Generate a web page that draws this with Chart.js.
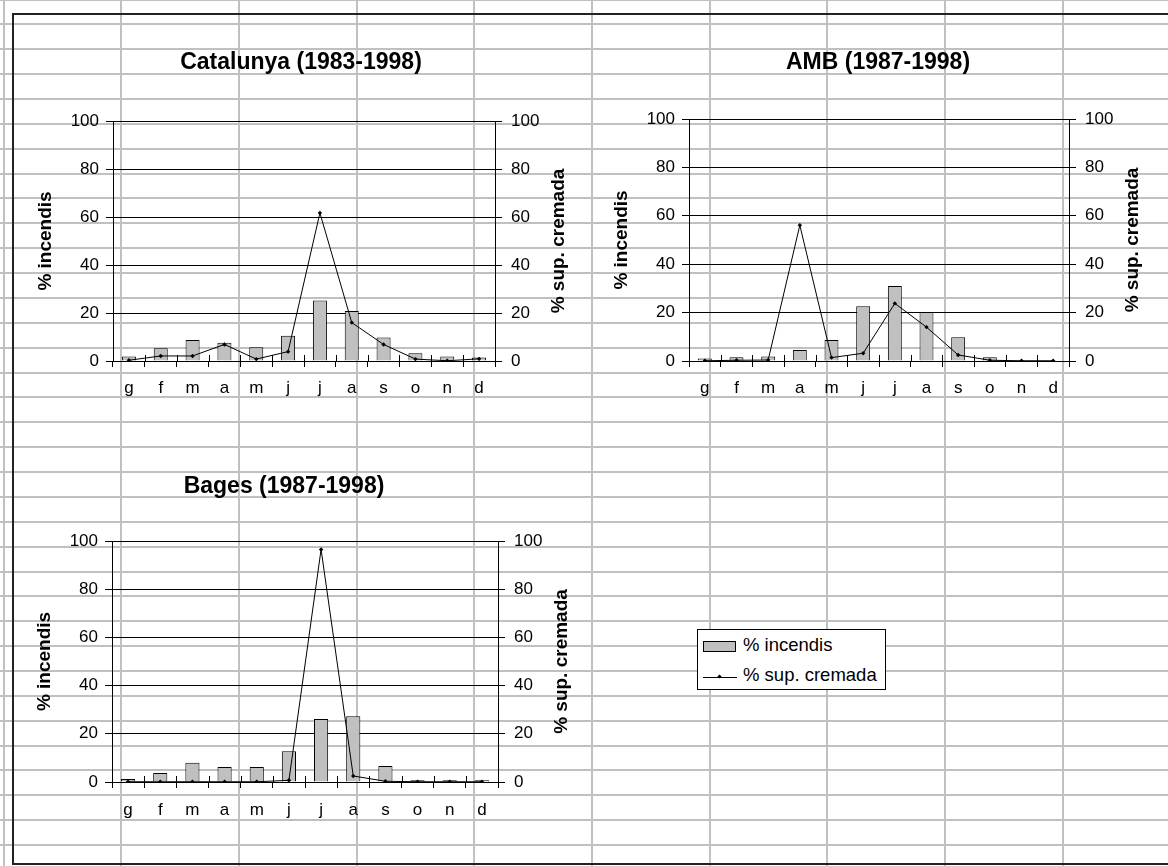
<!DOCTYPE html>
<html>
<head>
<meta charset="utf-8">
<title>Incendis per mes</title>
<script src="https://cdn.jsdelivr.net/npm/chart.js@4/dist/chart.umd.min.js"></script>
<style>
html, body { margin: 0; padding: 0; }
body { width: 1168px; height: 866px; position: relative; overflow: hidden; background: #fff;
       font-family: "Liberation Sans", Arial, sans-serif; }
#sheet { position: absolute; left: 0; top: 0; }
canvas.chart { position: absolute; }
#legend { position: absolute; left: 697px; top: 629px; width: 187px; height: 59px;
          border: 1px solid #000; background: #fff; }
#legend .swatch { position: absolute; left: 5px; top: 11px; width: 31px; height: 9px;
                  background: #c0c0c0; border: 1px solid #000; }
#legend .stroke { position: absolute; left: 5px; top: 47px; width: 34px; height: 1px; background: #000; }
#legend .dot { position: absolute; left: 20px; top: 45px; width: 3px; height: 3px; background: #000;
               transform: rotate(45deg); }
#legend .txt { position: absolute; left: 45px; font-size: 18.5px; line-height: 20px; color: #000; white-space: nowrap; }
</style>
</head>
<body>
<canvas id="sheet" width="1168" height="866"></canvas>
<canvas id="cat" class="chart" width="590" height="420" style="left:0;top:0"></canvas>
<canvas id="amb" class="chart" width="578" height="420" style="left:590px;top:0"></canvas>
<canvas id="bages" class="chart" width="590" height="446" style="left:0;top:420px"></canvas>
<div id="legend"></div>

<script>
var months = ['g', 'f', 'm', 'a', 'm', 'j', 'j', 'a', 's', 'o', 'n', 'd'];
var seriesNames = ['% incendis', '% sup. cremada'];

var catIncendis = [1.9, 5.3, 8.7, 7.6, 5.7, 10.5, 25.2, 20.8, 9.8, 3.2, 1.9, 1.5];
var catCremada = [0.3, 2.1, 2.1, 6.9, 0.8, 3.9, 61.7, 16.0, 6.9, 0.8, 0.1, 0.9];

var ambIncendis = [1.0, 1.5, 1.9, 4.5, 8.7, 22.6, 31.0, 20.2, 9.8, 1.5, 0, 0];
var ambCremada = [0.1, 0.3, 0.4, 56.1, 1.4, 3.2, 23.8, 14.0, 2.5, 0.3, 0.1, 0.1];

var bagesIncendis = [1.2, 3.7, 8.0, 6.2, 6.2, 12.8, 26.1, 27.3, 6.6, 0.7, 0.7, 0.7];
var bagesCremada = [0.1, 0.1, 0.1, 0.1, 0.1, 0.7, 96.5, 2.5, 0.3, 0.1, 0.1, 0.1];

var FONT = '"Liberation Sans", Arial, sans-serif';

// spreadsheet cells behind the charts
var sheet = document.getElementById('sheet').getContext('2d');
sheet.fillStyle = '#c0c0c0';
for (var k = 0; k < 10; k++) sheet.fillRect(Math.round(2.5 + 117.7 * k), 0, 2, 866);
for (var k = 0; k < 36; k++) sheet.fillRect(0, Math.round(-1.5 + 24.87 * k), 1168, 2);
sheet.fillStyle = '#222';
sheet.fillRect(12, 13, 1156, 2);
sheet.fillRect(12, 13, 2, 852);
sheet.fillRect(12, 863, 1156, 2);

Chart.defaults.font.family = FONT;
Chart.defaults.color = '#000';

// title, rotated axis titles and the upper half of the category ticks
var excelBits = {
    id: 'excelBits',
    afterDraw: function (chart, args, opts) {
        var ctx = chart.ctx, a = chart.chartArea, x = chart.scales.x;
        var step = x.getPixelForValue(1) - x.getPixelForValue(0);
        ctx.save();
        ctx.strokeStyle = '#000';
        ctx.lineWidth = 1;
        for (var i = 0; i <= months.length; i++) {
            var px = Math.round(x.getPixelForValue(i) - step / 2) + 0.5;
            ctx.beginPath();
            ctx.moveTo(px, a.bottom - 6);
            ctx.lineTo(px, a.bottom);
            ctx.stroke();
        }
        ctx.fillStyle = '#000';
        ctx.textAlign = 'center';
        ctx.textBaseline = 'middle';
        ctx.font = 'bold 23px ' + FONT;
        ctx.fillText(opts.title, opts.titleX, opts.titleY);

        var midY = (a.top + a.bottom) / 2;
        ctx.font = 'bold 19px ' + FONT;
        ctx.save();
        ctx.translate(a.left - 67, midY);
        ctx.rotate(-Math.PI / 2);
        ctx.fillText(seriesNames[0], 0, 0);
        ctx.restore();
        ctx.save();
        ctx.translate(a.right + 64, midY);
        ctx.rotate(-Math.PI / 2);
        ctx.fillText(seriesNames[1], 0, 0);
        ctx.restore();
        ctx.restore();
    }
};

function makeChart(id, incendis, cremada, box) {
    return new Chart(document.getElementById(id), {
        type: 'bar',
        data: {
            labels: months,
            datasets: [{
                type: 'line',
                label: seriesNames[1],
                data: cremada,
                yAxisID: 'y2',
                borderColor: '#000',
                borderWidth: 1,
                pointStyle: 'rectRot',
                pointRadius: 2.2,
                pointBackgroundColor: '#000',
                pointBorderColor: '#000',
                pointBorderWidth: 0,
                order: 0
            }, {
                type: 'bar',
                label: seriesNames[0],
                data: incendis,
                yAxisID: 'y',
                backgroundColor: '#c0c0c0',
                borderColor: '#000',
                borderWidth: 1,
                barPercentage: 0.44,
                categoryPercentage: 1,
                order: 1
            }]
        },
        options: {
            responsive: false,
            animation: false,
            devicePixelRatio: 1,
            layout: { padding: { top: box.top, left: 0, right: 0, bottom: 0 } },
            plugins: {
                legend: { display: false },
                tooltip: { enabled: false },
                excelBits: { title: box.title, titleX: box.titleX, titleY: box.titleY }
            },
            scales: {
                x: {
                    grid: { offset: true, drawOnChartArea: false, color: '#000', tickLength: 6 },
                    border: { color: '#000' },
                    ticks: { font: { size: 17 }, padding: box.labelPad, maxRotation: 0, autoSkip: false },
                    afterFit: function (s) { s.height = box.bottom; }
                },
                y: {
                    position: 'left', min: 0, max: 100,
                    ticks: { stepSize: 20, font: { size: 17 }, padding: 7 },
                    grid: { color: '#000', tickLength: 7 },
                    border: { color: '#000' },
                    afterFit: function (s) { s.width = box.left; }
                },
                y2: {
                    position: 'right', min: 0, max: 100,
                    ticks: { stepSize: 20, font: { size: 17 }, padding: 9 },
                    grid: { drawOnChartArea: false, color: '#000', tickLength: 7 },
                    border: { color: '#000' },
                    afterFit: function (s) { s.width = box.right; }
                }
            }
        },
        plugins: [excelBits]
    });
}

makeChart('cat', catIncendis, catCremada,
    { title: 'Catalunya (1983-1998)', titleX: 301, titleY: 63, top: 121, left: 113, right: 95, bottom: 59, labelPad: 11 });
makeChart('amb', ambIncendis, ambCremada,
    { title: 'AMB (1987-1998)', titleX: 288, titleY: 63, top: 119, left: 99, right: 99, bottom: 59, labelPad: 11 });
makeChart('bages', bagesIncendis, bagesCremada,
    { title: 'Bages (1987-1998)', titleX: 284, titleY: 67, top: 121, left: 112, right: 92, bottom: 84, labelPad: 12 });

// shared legend
var legend = document.getElementById('legend');
legend.innerHTML =
    '<span class="swatch"></span><span class="txt" style="top:5px">' + seriesNames[0] + '</span>' +
    '<span class="stroke"></span><span class="dot"></span><span class="txt" style="top:35px">' + seriesNames[1] + '</span>';
</script>
</body>
</html>
